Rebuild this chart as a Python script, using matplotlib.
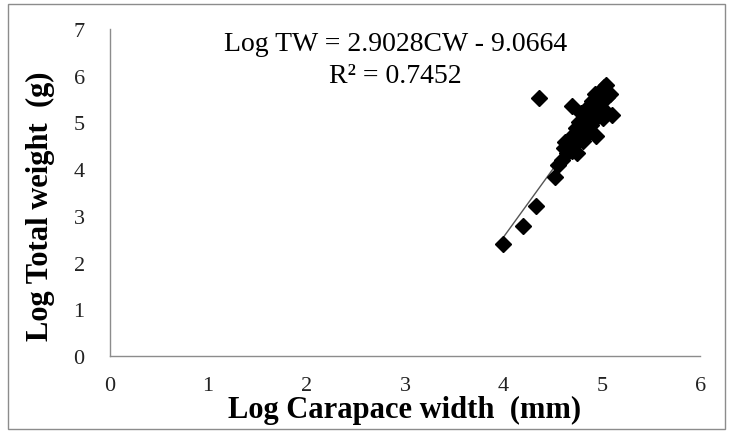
import matplotlib
matplotlib.use("Agg")
from matplotlib import pyplot as plt
from matplotlib.patches import Rectangle

# log carapace width (mm) vs log total weight (g)
log_cw = [4.00, 4.20, 4.33, 4.52, 4.36, 4.55, 4.60, 4.62, 4.63, 4.65,
          4.67, 4.68, 4.70, 4.70, 4.72, 4.73, 4.74, 4.75, 4.76, 4.77,
          4.78, 4.79, 4.80, 4.81, 4.82, 4.83, 4.84, 4.85, 4.86, 4.87,
          4.88, 4.89, 4.90, 4.91, 4.92, 4.93, 4.94, 4.95, 4.96, 4.97,
          4.98, 5.00, 5.01, 5.02, 5.04, 5.05, 5.10, 5.08]
log_tw = [2.40, 2.78, 3.22, 3.83, 5.52, 4.10, 4.20, 4.45, 4.58, 4.35,
          4.50, 4.62, 5.35, 4.40, 4.75, 4.55, 4.88, 4.35, 4.68, 5.00,
          4.82, 5.20, 4.95, 4.60, 5.10, 4.90, 5.25, 5.05, 4.78, 5.35,
          5.15, 4.95, 5.45, 5.28, 5.05, 5.60, 4.72, 5.38, 5.20, 5.50,
          5.65, 5.30, 5.10, 5.75, 5.80, 5.55, 5.15, 5.62]

slope = 2.9028
intercept = -9.0664
r_squared = 0.7452

x_ticks = [0, 1, 2, 3, 4, 5, 6]
y_ticks = [0, 1, 2, 3, 4, 5, 6, 7]

plt.rcParams["font.family"] = "Liberation Serif"

fig = plt.figure(figsize=(7.31, 4.35), dpi=100)
ax = fig.add_axes([0.150, 0.179, 0.808, 0.752])

# trend line over the data range
x0, x1 = min(log_cw), max(log_cw)
ax.plot([x0, x1], [slope * x0 + intercept, slope * x1 + intercept],
        color="#555555", lw=1, zorder=2)
ax.plot(log_cw, log_tw, "D", color="black", markersize=8, zorder=3)

ax.set_xlim(0, 6)
ax.set_ylim(0, 7)
ax.set_xticks(x_ticks)
ax.set_yticks(y_ticks)
ax.tick_params(length=0, labelsize=16, colors="#222222")
ax.tick_params(axis="y", pad=18)
ax.tick_params(axis="x", pad=14)
for side in ["top", "right"]:
    ax.spines[side].set_visible(False)
for side in ["left", "bottom"]:
    ax.spines[side].set_color("#8c8c8c")
    ax.spines[side].set_linewidth(1)

ax.set_xlabel("Log Carapace width  (mm)", fontsize=22, fontweight="bold", labelpad=0)
ax.set_ylabel("Log Total weight  (g)", fontsize=22, fontweight="bold")
ax.yaxis.set_label_coords(-0.092, 0.46)

ax.text(2.9, 6.70, f"Log TW = {slope}CW - {abs(intercept)}", fontsize=20,
        ha="center", va="center")
ax.text(2.9, 6.00, f"R² = {r_squared}", fontsize=20, ha="center", va="center")

# outer chart border
fig.patches.append(Rectangle((0.011, 0.012), 0.981, 0.976, transform=fig.transFigure,
                             fill=False, edgecolor="#8c8c8c", lw=1))

fig.savefig("out.png", dpi=100)
